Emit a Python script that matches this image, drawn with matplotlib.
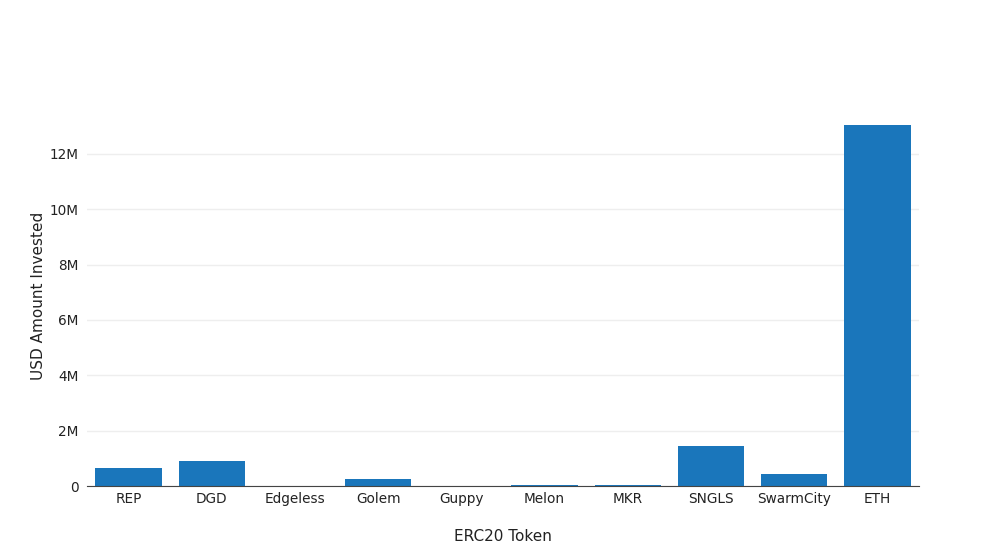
import matplotlib
matplotlib.use("Agg")
import matplotlib.pyplot as plt
from matplotlib.ticker import FuncFormatter

tokens = ['REP', 'DGD', 'Edgeless', 'Golem', 'Guppy', 'Melon', 'MKR', 'SNGLS', 'SwarmCity', 'ETH']
usd_invested = [650000, 890000, 0, 264000, 0, 35000, 35000, 1435000, 434000, 13040000]

fig = plt.figure(figsize=(10.05, 5.53), dpi=100)
ax = fig.add_axes([87/1005, 1-486/553, (919-87)/1005, (486-106)/553])

ax.bar(range(len(tokens)), usd_invested, width=0.8, color='#1a76bb', zorder=3)
ax.set_xlim(-0.5, len(tokens)-0.5)
ax.set_ylim(0, 13.73e6)
ax.set_yticks([0, 2e6, 4e6, 6e6, 8e6, 10e6, 12e6])
ax.yaxis.set_major_formatter(FuncFormatter(lambda v, p: '0' if v == 0 else f'{v/1e6:.0f}M'))
ax.set_xticks(range(len(tokens)))
ax.set_xticklabels(tokens)
ax.tick_params(length=0, labelsize=9.8, colors='#444444', pad=4)
ax.tick_params(axis='x', labelcolor='#222222')
ax.tick_params(axis='y', labelcolor='#222222', pad=6)
ax.grid(axis='y', color='#eeeeee', linewidth=1, zorder=0)
for s in ['top', 'right', 'left']:
    ax.spines[s].set_visible(False)
ax.spines['bottom'].set_color('#444444')
ax.spines['bottom'].set_zorder(4)

ax.set_ylabel('USD Amount Invested', fontsize=11, color='#222222', labelpad=3)
ax.set_xlabel('ERC20 Token', fontsize=11, color='#222222', labelpad=17)

fig.savefig('out.png', dpi=100)
